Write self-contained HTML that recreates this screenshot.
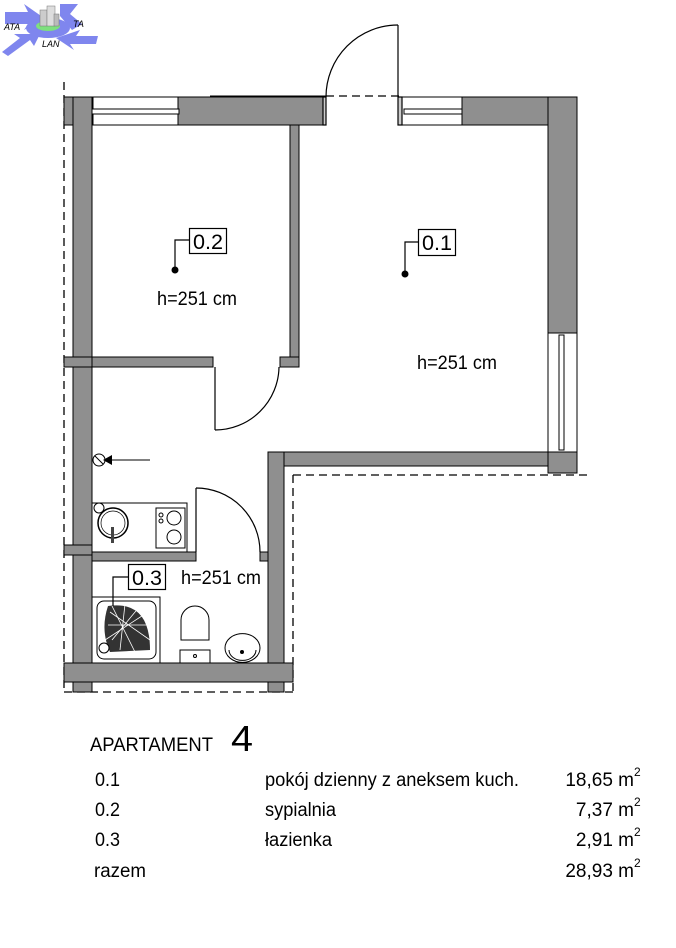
<!DOCTYPE html>
<html><head><meta charset="utf-8"><style>
html,body{margin:0;padding:0;background:#fff;}
svg{display:block;}
text{font-family:"Liberation Sans",Arial,sans-serif;fill:#000;}
</style></head><body>
<svg width="676" height="948" viewBox="0 0 676 948" xmlns="http://www.w3.org/2000/svg">
<!-- logo -->
<g fill="#7f86ee">
<polygon points="5,12 28,12 24,4 44,18 24,30 28,24 5,24"/>
<polygon points="60,4 78,4 70,14 82,24 72,30 60,16"/>
<polygon points="2,52 20,38 14,34 40,34 34,46 30,40 8,56"/>
<polygon points="96,44 70,44 74,50 56,38 80,30 76,36 98,36"/>
<ellipse cx="48" cy="28" rx="22" ry="10"/>
</g>
<ellipse cx="48" cy="26" rx="12" ry="5" fill="#7ee07e"/>
<rect x="40" y="10" width="7" height="16" fill="#ccc" stroke="#777" stroke-width="0.5"/>
<rect x="47" y="6" width="8" height="20" fill="#ddd" stroke="#777" stroke-width="0.5"/>
<rect x="54" y="14" width="5" height="12" fill="#bbb" stroke="#777" stroke-width="0.5"/>
<text x="4" y="30" font-size="9" font-style="italic" font-family="Liberation Serif">ATA</text>
<text x="73" y="27" font-size="9" font-style="italic" font-family="Liberation Serif">TA</text>
<text x="42" y="47" font-size="9" font-style="italic" font-family="Liberation Serif">LAN</text>

<!-- dashed outlines -->
<g stroke="#000" stroke-width="1.3" stroke-dasharray="8,5" fill="none">
<line x1="64" y1="82" x2="64" y2="692"/>
<line x1="64" y1="692" x2="293" y2="692"/>
<line x1="293" y1="475" x2="293" y2="692"/>
<line x1="293" y1="475" x2="590" y2="475"/>
<line x1="326" y1="96" x2="400" y2="96"/>
</g>
<line x1="210" y1="96" x2="326" y2="96" stroke="#000" stroke-width="1"/>

<!-- walls -->
<g fill="#8f8f8f" stroke="#000" stroke-width="1">
<rect x="64" y="97" width="29" height="28"/>
<rect x="178" y="97" width="148" height="28"/>
<rect x="462" y="97" width="115" height="28"/>
<rect x="548" y="97" width="29" height="236"/>
<rect x="548" y="452" width="29" height="21"/>
<rect x="268" y="452" width="280" height="14"/>
<rect x="73" y="97" width="19" height="595"/>
<rect x="64" y="357" width="28" height="10"/>
<rect x="64" y="545" width="28" height="10"/>
<rect x="290" y="125" width="9" height="242"/>
<rect x="92" y="357" width="121" height="10"/>
<rect x="280" y="357" width="19" height="10"/>
<rect x="268" y="452" width="16" height="240"/>
<rect x="92" y="552" width="104" height="9"/>
<rect x="260" y="552" width="8" height="9"/>
<rect x="64" y="663" width="229" height="19"/>
</g>
<rect x="74" y="98" width="17" height="30" fill="#8f8f8f"/>
<rect x="269" y="453" width="14" height="14" fill="#8f8f8f"/>
<rect x="269" y="665" width="14" height="16" fill="#8f8f8f"/>

<!-- windows -->
<g fill="#fff" stroke="#000" stroke-width="1">
<rect x="93" y="97" width="85" height="28"/>
<rect x="92" y="109" width="87" height="5"/>
<rect x="402" y="97" width="60" height="28"/>
<rect x="404" y="109" width="58" height="5"/>
<rect x="548" y="333" width="29" height="119"/>
<rect x="559" y="335" width="5" height="115"/>
</g>
<!-- doors -->
<g fill="none" stroke="#000" stroke-width="1.2">
<line x1="398" y1="97" x2="398" y2="25"/>
<path d="M326,97 A72,72 0 0 1 398,25"/>
<rect x="323" y="97" width="3" height="28" fill="#ccc"/>
<rect x="398" y="97" width="4" height="28" fill="#ccc"/>
<line x1="215" y1="367" x2="215" y2="430"/>
<path d="M215,430 A64,64 0 0 0 279,367"/>
<line x1="196" y1="552" x2="196" y2="488"/>
<path d="M196,488 A64,64 0 0 1 260,552"/>
</g>
<!-- meter -->
<circle cx="99" cy="460" r="6" fill="#fff" stroke="#000"/>
<line x1="95" y1="456" x2="103" y2="464" stroke="#000"/>
<polygon points="103,460 112,455 112,465" fill="#000"/>
<line x1="112" y1="460" x2="150" y2="460" stroke="#000"/>
<!-- kitchen -->
<rect x="92" y="503" width="95" height="49" fill="none" stroke="#000"/>
<circle cx="113" cy="523" r="15" fill="none" stroke="#000" stroke-width="1.5"/>
<circle cx="113" cy="523" r="12" fill="none" stroke="#000" stroke-width="0.7"/>
<circle cx="99" cy="508" r="5" fill="#fff" stroke="#000"/>
<rect x="111" y="527" width="3" height="16" fill="#444"/>
<rect x="156" y="508" width="29" height="40" fill="none" stroke="#000"/>
<circle cx="174" cy="518" r="7" fill="none" stroke="#000"/>
<circle cx="174" cy="537" r="7" fill="none" stroke="#000"/>
<circle cx="161" cy="515" r="2" fill="none" stroke="#000"/>
<circle cx="161" cy="521" r="2" fill="none" stroke="#000"/>
<!-- bathroom -->
<rect x="92" y="597" width="68" height="66" fill="none" stroke="#000"/>
<rect x="97" y="601" width="59" height="58" rx="7" fill="none" stroke="#000"/>
<path d="M108,606 Q150,600 150,650 L110,652 Q100,630 108,606Z" fill="#333"/>
<g stroke="#fff" stroke-width="0.8">
<line x1="110" y1="612" x2="150" y2="640"/><line x1="108" y1="625" x2="150" y2="625"/>
<line x1="112" y1="640" x2="140" y2="606"/><line x1="120" y1="650" x2="125" y2="604"/>
<line x1="105" y1="640" x2="148" y2="612"/><line x1="135" y1="652" x2="112" y2="606"/>
</g>
<circle cx="104" cy="648" r="5" fill="#fff" stroke="#000"/>
<path d="M181,640 L181,620 A14,14 0 0 1 209,620 L209,640 Z" fill="#fff" stroke="#000"/>
<rect x="180" y="650" width="30" height="13" fill="#fff" stroke="#000"/>
<circle cx="195" cy="656" r="1.5" fill="none" stroke="#000"/>
<path d="M225,648 A17,14 0 0 1 260,648 A17,14 0 0 1 225,648Z" fill="#fff" stroke="#000"/>
<path d="M229,650 A13,10 0 0 0 256,650" fill="none" stroke="#000"/>
<circle cx="242" cy="652" r="2" fill="#000"/>

<!-- labels -->
<g fill="none" stroke="#000" stroke-width="1.2">
<rect x="189.5" y="228.5" width="37" height="25" fill="#fff"/>
<polyline points="189,240 175,240 175,270"/>
<rect x="418.5" y="229.5" width="37" height="26" fill="#fff"/>
<polyline points="418,242 405,242 405,274"/>
<rect x="128.5" y="564.5" width="37" height="25" fill="#fff"/>
<polyline points="128,577 113,577 113,606"/>
</g>
<circle cx="175" cy="270" r="3.5" fill="#000"/>
<circle cx="405" cy="274" r="3.5" fill="#000"/>
<text x="193" y="249" font-size="21" textLength="30" lengthAdjust="spacingAndGlyphs">0.2</text>
<text x="422" y="250" font-size="21" textLength="30" lengthAdjust="spacingAndGlyphs">0.1</text>
<text x="132" y="585" font-size="21" textLength="30" lengthAdjust="spacingAndGlyphs">0.3</text>
<text x="157" y="305" font-size="19" textLength="80" lengthAdjust="spacingAndGlyphs">h=251 cm</text>
<text x="417" y="369" font-size="19" textLength="80" lengthAdjust="spacingAndGlyphs">h=251 cm</text>
<text x="181" y="584" font-size="19" textLength="80" lengthAdjust="spacingAndGlyphs">h=251 cm</text>

<!-- table -->
<text x="90" y="751" font-size="19" textLength="123" lengthAdjust="spacingAndGlyphs">APARTAMENT</text>
<text x="231" y="751" font-size="36" textLength="22" lengthAdjust="spacingAndGlyphs">4</text>
<g font-size="19">
<text x="95" y="786" textLength="25" lengthAdjust="spacingAndGlyphs">0.1</text>
<text x="95" y="816" textLength="25" lengthAdjust="spacingAndGlyphs">0.2</text>
<text x="95" y="846" textLength="25" lengthAdjust="spacingAndGlyphs">0.3</text>
<text x="94" y="877" textLength="52" lengthAdjust="spacingAndGlyphs">razem</text>
<text x="265" y="786" textLength="254" lengthAdjust="spacingAndGlyphs">pokój dzienny z aneksem kuch.</text>
<text x="265" y="816" textLength="71" lengthAdjust="spacingAndGlyphs">sypialnia</text>
<text x="265" y="846" textLength="67" lengthAdjust="spacingAndGlyphs">łazienka</text>
<text x="634" y="786" text-anchor="end">18,65 m</text>
<text x="634" y="816" text-anchor="end">7,37 m</text>
<text x="634" y="846" text-anchor="end">2,91 m</text>
<text x="634" y="877" text-anchor="end">28,93 m</text>
</g>
<g font-size="12">
<text x="634" y="776">2</text><text x="634" y="806">2</text>
<text x="634" y="836">2</text><text x="634" y="867">2</text>
</g>
</svg>
</body></html>
